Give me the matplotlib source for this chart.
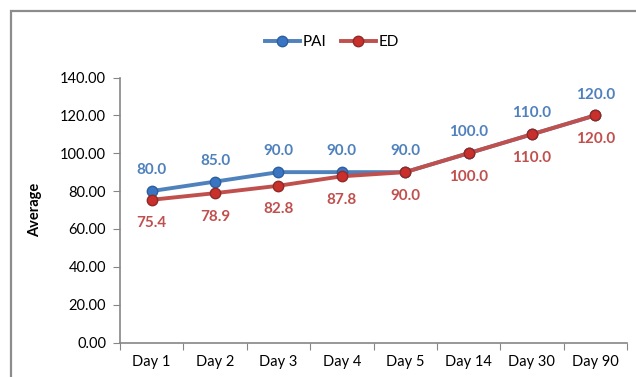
import matplotlib.pyplot as plt
from matplotlib.patches import Rectangle
from matplotlib.lines import Line2D

days = ["Day 1", "Day 2", "Day 3", "Day 4", "Day 5", "Day 14", "Day 30", "Day 90"]
pai = [80.0, 85.0, 90.0, 90.0, 90.0, 100.0, 110.0, 120.0]
ed = [75.4, 78.9, 82.8, 87.8, 90.0, 100.0, 110.0, 120.0]

blue = "#4F81BD"
red = "#C0504D"
grey = "#868686"

plt.rcParams["font.family"] = ["Lato", "DejaVu Sans"]

fig = plt.figure(figsize=(6.36, 3.77), dpi=100)
ax = fig.add_axes([120 / 636, 1 - 342.5 / 377, 507 / 636, 265 / 377])

# outer chart border (runs off the right and bottom edges)
fig.patches.append(Rectangle((10.5 / 636, -0.1), 1.2, (377 - 10.5) / 377 + 0.1,
                             transform=fig.transFigure, fill=False,
                             edgecolor="#8c8c8c", linewidth=1.6))

x = list(range(len(days)))
ax.plot(x, pai, "-o", color=blue, linewidth=2.8, markersize=7.5,
        markerfacecolor="#3a75c4", markeredgecolor="#2d5f9e", zorder=3)
ax.plot(x, ed, "-o", color=red, linewidth=2.8, markersize=7.5,
        markerfacecolor="#c9302c", markeredgecolor="#8e2a27", zorder=4)

for i in x:
    ax.annotate(f"{pai[i]:.1f}", (i, pai[i]), xytext=(0, 15), textcoords="offset points",
                ha="center", va="center", color=blue, fontsize=11, fontweight="bold")
    ax.annotate(f"{ed[i]:.1f}", (i, ed[i]), xytext=(0, -17), textcoords="offset points",
                ha="center", va="center", color=red, fontsize=11, fontweight="bold")

ax.set_xlim(-0.5, len(days) - 0.5)
ax.set_ylim(0, 140)
ax.set_yticks(range(0, 141, 20))
ax.set_yticklabels([f"{v:.2f}" for v in range(0, 141, 20)])
ax.set_xticks([i - 0.5 for i in range(len(days) + 1)])
ax.set_xticklabels([])
ax.set_xticks(x, minor=True)
ax.set_xticklabels(days, minor=True)
ax.tick_params(axis="x", which="major", length=5, color=grey, direction="out")
ax.tick_params(axis="x", which="minor", length=0, pad=9, labelsize=10.5)
ax.tick_params(axis="y", length=5, color=grey, labelsize=10.5, pad=5)

for side in ["top", "right"]:
    ax.spines[side].set_visible(False)
for side in ["left", "bottom"]:
    ax.spines[side].set_color(grey)
    ax.spines[side].set_linewidth(1.2)

ax.set_ylabel("Average", fontsize=10.5, fontweight="bold", labelpad=13)

handles = [
    Line2D([], [], color=blue, linewidth=2.8, marker="o", markersize=7.5,
           markerfacecolor="#3a75c4", markeredgecolor="#2d5f9e"),
    Line2D([], [], color=red, linewidth=2.8, marker="o", markersize=7.5,
           markerfacecolor="#c9302c", markeredgecolor="#8e2a27"),
]
fig.legend(handles, ["PAI", "ED"], loc="center", bbox_to_anchor=(332 / 636, 1 - 42 / 377),
           ncol=2, frameon=False, fontsize=11, handlelength=2.3, handletextpad=0.2,
           columnspacing=0.9)

fig.savefig("out.png", dpi=100)
